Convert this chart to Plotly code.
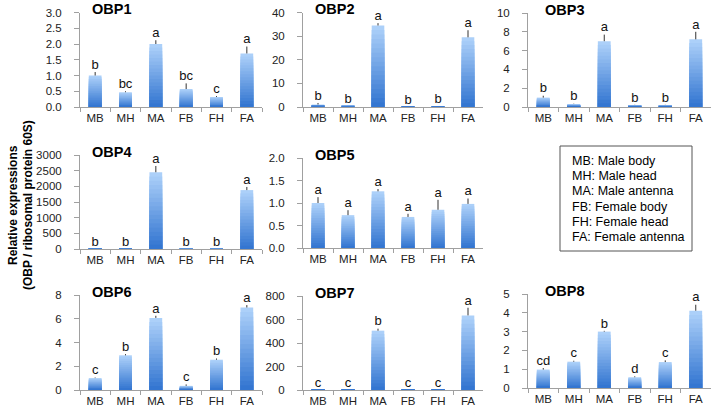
import plotly.graph_objects as go

W, H = 715, 409

categories = ["MB", "MH", "MA", "FB", "FH", "FA"]

panel_names = ["OBP1", "OBP2", "OBP3", "OBP4", "OBP5", "OBP6", "OBP7", "OBP8"]

obp1_values = [1.0, 0.47, 2.0, 0.57, 0.32, 1.70]
obp1_errors = [0.11, 0.03, 0.12, 0.18, 0.03, 0.22]
obp1_letters = ["b", "bc", "a", "bc", "c", "a"]

obp2_values = [1.0, 0.4, 34.5, 0.05, 0.2, 29.5]
obp2_errors = [0.7, 0.1, 1.0, 0.02, 0.05, 3.0]
obp2_letters = ["b", "b", "a", "b", "b", "a"]

obp3_values = [1.0, 0.3, 7.0, 0.2, 0.2, 7.2]
obp3_errors = [0.2, 0.05, 0.7, 0.03, 0.03, 0.8]
obp3_letters = ["b", "b", "a", "b", "b", "a"]

obp4_values = [1, 1, 2450, 0.5, 0.5, 1880]
obp4_errors = [0.2, 0.2, 200, 0.1, 0.1, 100]
obp4_letters = ["b", "b", "a", "b", "b", "a"]

obp5_values = [1.0, 0.73, 1.26, 0.69, 0.85, 0.98]
obp5_errors = [0.13, 0.11, 0.05, 0.07, 0.22, 0.12]
obp5_letters = ["a", "a", "a", "a", "a", "a"]

obp6_values = [1.0, 2.92, 6.07, 0.35, 2.55, 6.95]
obp6_errors = [0.05, 0.1, 0.18, 0.12, 0.1, 0.2]
obp6_letters = ["c", "b", "a", "c", "b", "a"]

obp7_values = [1, 1, 505, 1, 1, 635]
obp7_errors = [0.2, 0.2, 17, 0.2, 0.2, 65]
obp7_letters = ["c", "c", "b", "c", "c", "a"]

obp8_values = [0.98, 1.4, 3.0, 0.57, 1.38, 4.11]
obp8_errors = [0.08, 0.05, 0.04, 0.05, 0.09, 0.32]
obp8_letters = ["cd", "c", "b", "d", "c", "a"]

y_max = [3.0, 40, 10, 3000, 2.0, 8, 800, 5]
y_step = [0.5, 10, 2, 500, 0.5, 2, 200, 1]
y_format = [".1f", "d", "d", "d", ".1f", "d", "d", "d"]

legend_lines = ["MB: Male body", "MH: Male head", "MA: Male antenna",
                "FB: Female body", "FH: Female head", "FA: Female antenna"]

y_title_1 = "Relative expressions"
y_title_2 = "(OBP / ribosomal protein 60S)"

all_values = [obp1_values, obp2_values, obp3_values, obp4_values,
              obp5_values, obp6_values, obp7_values, obp8_values]
all_errors = [obp1_errors, obp2_errors, obp3_errors, obp4_errors,
              obp5_errors, obp6_errors, obp7_errors, obp8_errors]
all_letters = [obp1_letters, obp2_letters, obp3_letters, obp4_letters,
               obp5_letters, obp6_letters, obp7_letters, obp8_letters]

# plot-area boxes in pixels: (left, right, top, bottom)
boxes = [
    (80, 262, 12.5, 107), (303, 483, 12.5, 107), (528, 711, 13, 107),
    (80, 262, 155, 249), (303, 483, 158, 248),
    (80, 262, 295, 390), (303, 483, 296, 390), (528, 711, 294, 388),
]

FONT = "Liberation Sans, Arial, sans-serif"
N_STEPS = 18
light = (172, 208, 249)
dark = (52, 118, 209)


def mix(t):
    return "rgb(%d,%d,%d)" % tuple(round(light[i] + (dark[i] - light[i]) * t) for i in range(3))


fig = go.Figure()
layout = dict(
    width=W, height=H, margin=dict(l=0, r=0, t=0, b=0, autoexpand=False),
    paper_bgcolor="white", plot_bgcolor="white",
    barmode="overlay", showlegend=False,
    font=dict(family=FONT, size=11.5, color="#222"),
)
annotations = []
shapes = []

for p in range(8):
    ax = "" if p == 0 else str(p + 1)
    xa, ya = "x" + ax, "y" + ax
    left, right, top, bottom = boxes[p]
    vals, errs, lets = all_values[p], all_errors[p], all_letters[p]
    # vertical gradient: overlaid copies of the bars, shorter ones darker
    for k in range(N_STEPS):
        frac = (N_STEPS - k) / N_STEPS
        tr = dict(
            x=categories, y=[v * frac for v in vals],
            marker=dict(color=mix(k / (N_STEPS - 1)), line=dict(width=0)),
            width=0.42, xaxis=xa, yaxis=ya, hoverinfo="skip",
        )
        if k == 0:
            tr["error_y"] = dict(type="data", symmetric=False, array=errs,
                                 arrayminus=[0] * len(errs), color="#333",
                                 thickness=1, width=0)
        fig.add_trace(go.Bar(**tr))
    fig.add_trace(go.Scatter(
        x=categories, y=[v + e for v, e in zip(vals, errs)], text=lets,
        mode="text", textposition="top center",
        textfont=dict(family=FONT, size=13, color="#111"),
        xaxis=xa, yaxis=ya, cliponaxis=False, hoverinfo="skip"))

    layout["xaxis" + ax] = dict(
        domain=[left / W, right / W], anchor=ya,
        showline=True, linecolor="#a0a0a0", linewidth=1,
        ticks="outside", tickson="boundaries", ticklen=4, tickcolor="#a0a0a0",
        showgrid=False, zeroline=False, fixedrange=True,
        tickfont=dict(family=FONT, size=11.5, color="#222"),
    )
    layout["yaxis" + ax] = dict(
        domain=[1 - bottom / H, 1 - top / H], anchor=xa,
        range=[0, y_max[p]], dtick=y_step[p], tick0=0,
        tickformat=y_format[p],
        showline=True, linecolor="#a0a0a0", linewidth=1,
        ticks="outside", ticklen=5, tickcolor="#a0a0a0",
        ticklabelstandoff=10,
        showgrid=False, zeroline=False, fixedrange=True,
        tickfont=dict(family=FONT, size=11.5, color="#222"),
    )
    title_x = left + (15 if left > 500 else 10)
    annotations.append(dict(
        text="<b>%s</b>" % panel_names[p], x=title_x / W, y=1 - (top - 3) / H,
        xref="paper", yref="paper", xanchor="left", yanchor="middle",
        showarrow=False, font=dict(family=FONT, size=14.5, color="black")))

annotations.append(dict(
    text="<b>%s</b>" % y_title_1, x=13 / W, y=1 - 205 / H, xref="paper", yref="paper",
    textangle=-90, showarrow=False, xanchor="center", yanchor="middle",
    font=dict(family=FONT, size=12, color="black")))
annotations.append(dict(
    text="<b>%s</b>" % y_title_2, x=28 / W, y=1 - 205 / H, xref="paper", yref="paper",
    textangle=-90, showarrow=False, xanchor="center", yanchor="middle",
    font=dict(family=FONT, size=12, color="black")))

shapes.append(dict(type="rect", xref="paper", yref="paper",
                   x0=560 / W, x1=692 / W, y0=1 - 251 / H, y1=1 - 146 / H,
                   line=dict(color="#555", width=1), fillcolor="white"))
for i, line in enumerate(legend_lines):
    annotations.append(dict(
        text=line, x=570 / W, y=1 - (161 + i * 15.2) / H, xref="paper", yref="paper",
        xanchor="left", yanchor="middle", showarrow=False,
        font=dict(family=FONT, size=12.5, color="black")))

layout["annotations"] = annotations
layout["shapes"] = shapes
fig.update_layout(**layout)
fig.write_html("out.html", config={"displayModeBar": False},
               post_script="document.body.style.margin='0';document.body.style.overflow='hidden';")
